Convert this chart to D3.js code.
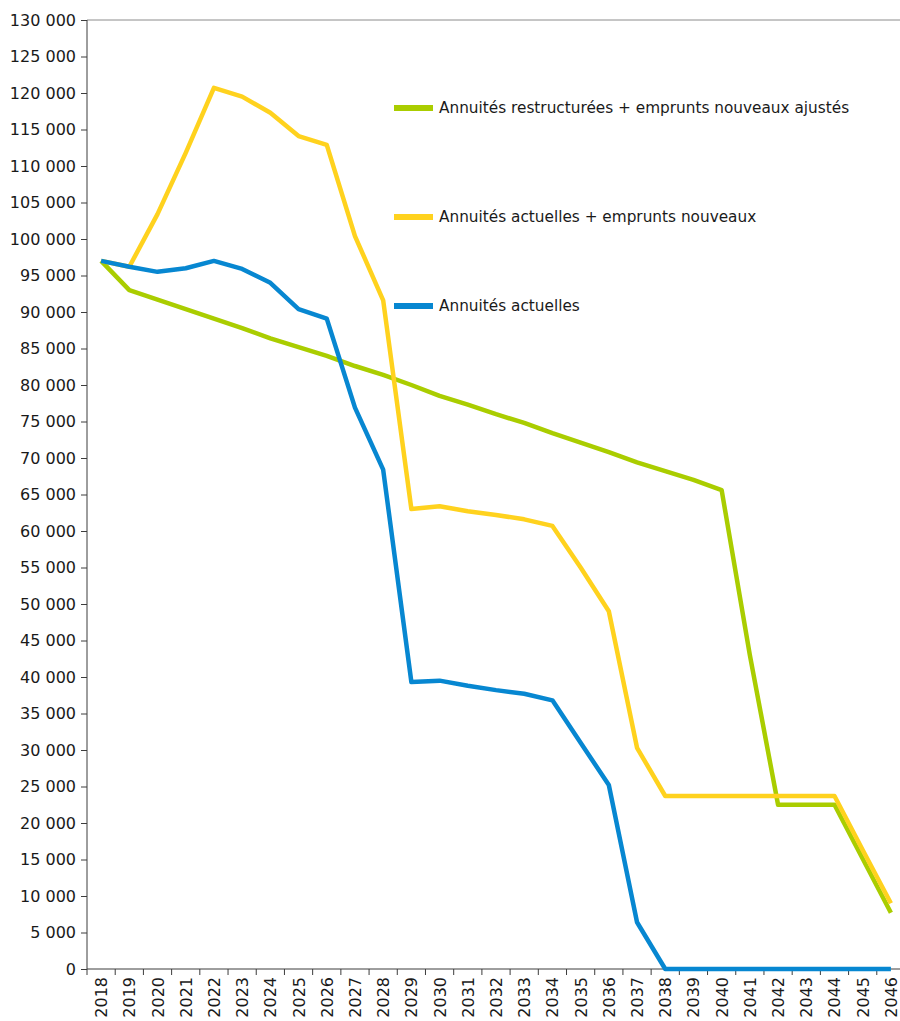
<!DOCTYPE html>
<html>
<head>
<meta charset="utf-8">
<script src="https://cdn.jsdelivr.net/npm/d3@7"></script>
<style>
  body { margin: 0; background: #fff; }
  text { font-family: "DejaVu Sans", sans-serif; fill: #1a1a1a; }
</style>
</head>
<body>
<div id="chart"></div>
<script>
// années et séries
var annees = d3.range(2018, 2047);

var restructurees = [97000, 93000, 91700, 90400, 89100, 87800, 86400, 85200, 84000, 82600,
  81400, 80000, 78500, 77300, 76000, 74800, 73400, 72100, 70800, 69400,
  68200, 67000, 65600, 43000, 22500, 22500, 22500, 15100, 7700];

var actuellesNouveaux = [97000, 96200, 103400, 111800, 120700, 119500, 117300, 114100, 112900, 100400,
  91600, 63000, 63400, 62700, 62200, 61600, 60700, 55000, 49000, 30300,
  23700, 23700, 23700, 23700, 23700, 23700, 23700, 16300, 9000];

var actuelles = [97000, 96200, 95500, 96000, 97000, 95900, 94000, 90400, 89100, 76900,
  68400, 39300, 39500, 38800, 38200, 37700, 36800, 31000, 25200, 6400,
  0, 0, 0, 0, 0, 0, 0, 0, 0];

var yTicks = d3.range(0, 130001, 5000);

var series = [
  {nom: "Annuités restructurées + emprunts nouveaux ajustés", valeurs: restructurees, couleur: "#aacd00"},
  {nom: "Annuités actuelles + emprunts nouveaux", valeurs: actuellesNouveaux, couleur: "#ffd21e"},
  {nom: "Annuités actuelles", valeurs: actuelles, couleur: "#0787d1"}
];

var w = 900, h = 1021;
var m = {top: 20, left: 87, right: -5, bottom: 52};

var svg = d3.select("#chart").append("svg")
  .attr("width", w)
  .attr("height", h);

var x = d3.scaleBand()
  .domain(annees)
  .range([m.left, w - m.right]);

var y = d3.scaleLinear()
  .domain([0, 130000])
  .range([h - m.bottom, m.top]);

var fmt = function(d) { return d3.format(",")(d).replace(/,/g, " "); };

// bordure du haut
svg.append("line")
  .attr("x1", m.left).attr("x2", w)
  .attr("y1", y(130000)).attr("y2", y(130000))
  .attr("stroke", "#8c8c8c").attr("stroke-width", 1);

// axe Y
var axeY = svg.append("g")
  .attr("transform", "translate(" + m.left + ",0)")
  .call(d3.axisLeft(y).tickValues(yTicks).tickFormat(fmt).tickSize(6).tickPadding(5));
axeY.selectAll("text").style("font-size", "16px");
axeY.selectAll("line, path").attr("stroke", "#3c3c3c");
axeY.select(".domain").attr("d", "M0," + y(0) + "V" + y(130000));

// axe X
var bords = annees.map(function(a) { return x(a); });
var axeX = svg.append("g")
  .attr("transform", "translate(0," + y(0) + ")");
axeX.append("line")
  .attr("x1", m.left).attr("x2", w)
  .attr("stroke", "#3c3c3c");
axeX.selectAll("line.tick")
  .data(bords)
  .enter().append("line")
  .attr("class", "tick")
  .attr("x1", function(d) { return d; })
  .attr("x2", function(d) { return d; })
  .attr("y1", 0).attr("y2", 6)
  .attr("stroke", "#3c3c3c");
axeX.selectAll("text")
  .data(annees)
  .enter().append("text")
  .attr("transform", function(d) {
    return "translate(" + (x(d) + x.bandwidth() / 2 + 6) + ",8) rotate(-90)";
  })
  .attr("text-anchor", "end")
  .style("font-size", "16px")
  .text(function(d) { return d; });

// courbes
var ligne = function(vals) {
  return d3.line()
    .x(function(d, i) { return x(annees[i]) + x.bandwidth() / 2; })
    .y(function(d) { return y(d); })(vals);
};

svg.selectAll("path.serie")
  .data(series)
  .enter().append("path")
  .attr("class", "serie")
  .attr("d", function(d) { return ligne(d.valeurs); })
  .attr("fill", "none")
  .attr("stroke", function(d) { return d.couleur; })
  .attr("stroke-width", 4.5)
  .attr("stroke-linejoin", "round");

// légende
var legY = [108, 217, 306];
var leg = svg.selectAll("g.leg")
  .data(series)
  .enter().append("g")
  .attr("class", "leg")
  .attr("transform", function(d, i) { return "translate(394," + legY[i] + ")"; });
leg.append("line")
  .attr("x1", 0).attr("x2", 39)
  .attr("stroke", function(d) { return d.couleur; })
  .attr("stroke-width", 6);
leg.append("text")
  .attr("x", 45).attr("y", 5)
  .style("font-size", "15.3px")
  .text(function(d) { return d.nom; });
</script>
</body>
</html>
